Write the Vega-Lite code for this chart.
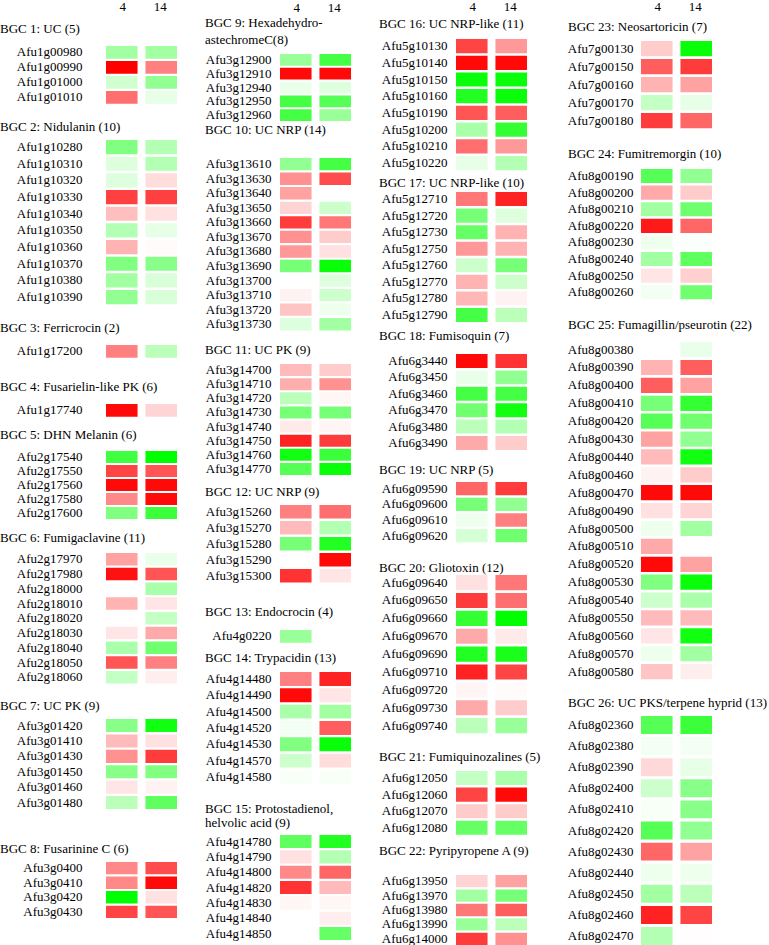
{
"$schema":"https://vega.github.io/schema/vega-lite/v6.json",
"padding":0,
"background":"white",
"spacing":26,
"resolve":{"scale":{"color":"independent"}},
"datasets":{"d":[
{"b":1,"g":"Afu1g00980","t":"4","v":-1.1},{"b":1,"g":"Afu1g00980","t":"14","v":-1.1},
{"b":1,"g":"Afu1g00990","t":"4","v":3},{"b":1,"g":"Afu1g00990","t":"14","v":1.5},
{"b":1,"g":"Afu1g01000","t":"4","v":-0.55},{"b":1,"g":"Afu1g01000","t":"14","v":-1.3},
{"b":1,"g":"Afu1g01010","t":"4","v":1.7},{"b":1,"g":"Afu1g01010","t":"14","v":-0.3},
{"b":2,"g":"Afu1g10280","t":"4","v":-1.5},{"b":2,"g":"Afu1g10280","t":"14","v":-0.9},
{"b":2,"g":"Afu1g10310","t":"4","v":-0.4},{"b":2,"g":"Afu1g10310","t":"14","v":-0.9},
{"b":2,"g":"Afu1g10320","t":"4","v":-0.4},{"b":2,"g":"Afu1g10320","t":"14","v":0.4},
{"b":2,"g":"Afu1g10330","t":"4","v":2.25},{"b":2,"g":"Afu1g10330","t":"14","v":2.25},
{"b":2,"g":"Afu1g10340","t":"4","v":0.75},{"b":2,"g":"Afu1g10340","t":"14","v":0.35},
{"b":2,"g":"Afu1g10350","t":"4","v":-0.9},{"b":2,"g":"Afu1g10350","t":"14","v":-0.3},
{"b":2,"g":"Afu1g10360","t":"4","v":0.9},{"b":2,"g":"Afu1g10360","t":"14","v":0.05},
{"b":2,"g":"Afu1g10370","t":"4","v":-1.5},{"b":2,"g":"Afu1g10370","t":"14","v":-1.4},
{"b":2,"g":"Afu1g10380","t":"4","v":-1.1},{"b":2,"g":"Afu1g10380","t":"14","v":-0.45},
{"b":2,"g":"Afu1g10390","t":"4","v":-1.3},{"b":2,"g":"Afu1g10390","t":"14","v":-0.45},
{"b":3,"g":"Afu1g17200","t":"4","v":1.5},{"b":3,"g":"Afu1g17200","t":"14","v":-0.8},
{"b":4,"g":"Afu1g17740","t":"4","v":2.9},{"b":4,"g":"Afu1g17740","t":"14","v":0.5},
{"b":5,"g":"Afu2g17540","t":"4","v":-2.25},{"b":5,"g":"Afu2g17540","t":"14","v":-3},
{"b":5,"g":"Afu2g17550","t":"4","v":2.2},{"b":5,"g":"Afu2g17550","t":"14","v":2.0},
{"b":5,"g":"Afu2g17560","t":"4","v":2.9},{"b":5,"g":"Afu2g17560","t":"14","v":2.9},
{"b":5,"g":"Afu2g17580","t":"4","v":1.4},{"b":5,"g":"Afu2g17580","t":"14","v":2.9},
{"b":5,"g":"Afu2g17600","t":"4","v":-1.5},{"b":5,"g":"Afu2g17600","t":"14","v":-2.3},
{"b":6,"g":"Afu2g17970","t":"4","v":1.1},{"b":6,"g":"Afu2g17970","t":"14","v":-0.25},
{"b":6,"g":"Afu2g17980","t":"4","v":2.8},{"b":6,"g":"Afu2g17980","t":"14","v":2.0},
{"b":6,"g":"Afu2g18000","t":"14","v":-1.0},
{"b":6,"g":"Afu2g18010","t":"4","v":0.9},{"b":6,"g":"Afu2g18010","t":"14","v":0.3},
{"b":6,"g":"Afu2g18020","t":"14","v":-0.7},
{"b":6,"g":"Afu2g18030","t":"4","v":0.3},{"b":6,"g":"Afu2g18030","t":"14","v":1.0},
{"b":6,"g":"Afu2g18040","t":"4","v":-1.0},{"b":6,"g":"Afu2g18040","t":"14","v":-1.7},
{"b":6,"g":"Afu2g18050","t":"4","v":2.0},{"b":6,"g":"Afu2g18050","t":"14","v":1.5},
{"b":6,"g":"Afu2g18060","t":"4","v":-0.7},{"b":6,"g":"Afu2g18060","t":"14","v":0.2},
{"b":7,"g":"Afu3g01420","t":"4","v":-1.4},{"b":7,"g":"Afu3g01420","t":"14","v":-2.8},
{"b":7,"g":"Afu3g01410","t":"4","v":0.8},{"b":7,"g":"Afu3g01410","t":"14","v":0.35},
{"b":7,"g":"Afu3g01430","t":"4","v":1.3},{"b":7,"g":"Afu3g01430","t":"14","v":2.3},
{"b":7,"g":"Afu3g01450","t":"4","v":-1.4},{"b":7,"g":"Afu3g01450","t":"14","v":-1.5},
{"b":7,"g":"Afu3g01460","t":"4","v":0.3},{"b":7,"g":"Afu3g01460","t":"14","v":0.15},
{"b":7,"g":"Afu3g01480","t":"4","v":-0.8},{"b":7,"g":"Afu3g01480","t":"14","v":-1.9},
{"b":8,"g":"Afu3g0400","t":"4","v":1.4},{"b":8,"g":"Afu3g0400","t":"14","v":2.1},
{"b":8,"g":"Afu3g0410","t":"4","v":1.4},{"b":8,"g":"Afu3g0410","t":"14","v":2.9},
{"b":8,"g":"Afu3g0420","t":"4","v":-3},{"b":8,"g":"Afu3g0420","t":"14","v":0.35},
{"b":8,"g":"Afu3g0430","t":"4","v":2.2},{"b":8,"g":"Afu3g0430","t":"14","v":2.0},
{"b":9,"g":"Afu3g12900","t":"4","v":-1.2},{"b":9,"g":"Afu3g12900","t":"14","v":-2.2},
{"b":9,"g":"Afu3g12910","t":"4","v":2.9},{"b":9,"g":"Afu3g12910","t":"14","v":2.9},
{"b":9,"g":"Afu3g12940","t":"4","v":-0.25},{"b":9,"g":"Afu3g12940","t":"14","v":-0.4},
{"b":9,"g":"Afu3g12950","t":"4","v":-2.2},{"b":9,"g":"Afu3g12950","t":"14","v":-2.0},
{"b":9,"g":"Afu3g12960","t":"4","v":-2.2},{"b":9,"g":"Afu3g12960","t":"14","v":-1.2},
{"b":10,"g":"Afu3g13610","t":"4","v":-1.3},{"b":10,"g":"Afu3g13610","t":"14","v":-2.2},
{"b":10,"g":"Afu3g13630","t":"4","v":1.3},{"b":10,"g":"Afu3g13630","t":"14","v":2.1},
{"b":10,"g":"Afu3g13640","t":"4","v":1.1},
{"b":10,"g":"Afu3g13650","t":"4","v":0.5},{"b":10,"g":"Afu3g13650","t":"14","v":-0.6},
{"b":10,"g":"Afu3g13660","t":"4","v":2.3},{"b":10,"g":"Afu3g13660","t":"14","v":1.6},
{"b":10,"g":"Afu3g13670","t":"4","v":1.3},{"b":10,"g":"Afu3g13670","t":"14","v":0.6},
{"b":10,"g":"Afu3g13680","t":"4","v":1.2},{"b":10,"g":"Afu3g13680","t":"14","v":0.35},
{"b":10,"g":"Afu3g13690","t":"4","v":-1.6},{"b":10,"g":"Afu3g13690","t":"14","v":-2.9},
{"b":10,"g":"Afu3g13700","t":"14","v":-0.4},
{"b":10,"g":"Afu3g13710","t":"4","v":0.15},{"b":10,"g":"Afu3g13710","t":"14","v":-0.6},
{"b":10,"g":"Afu3g13720","t":"4","v":0.7},{"b":10,"g":"Afu3g13720","t":"14","v":-0.2},
{"b":10,"g":"Afu3g13730","t":"4","v":-0.4},{"b":10,"g":"Afu3g13730","t":"14","v":-1.1},
{"b":11,"g":"Afu3g14700","t":"4","v":0.8},{"b":11,"g":"Afu3g14700","t":"14","v":0.6},
{"b":11,"g":"Afu3g14710","t":"4","v":0.95},{"b":11,"g":"Afu3g14710","t":"14","v":1.3},
{"b":11,"g":"Afu3g14720","t":"4","v":-0.8},{"b":11,"g":"Afu3g14720","t":"14","v":0.1},
{"b":11,"g":"Afu3g14730","t":"4","v":-1.6},{"b":11,"g":"Afu3g14730","t":"14","v":-1.6},
{"b":11,"g":"Afu3g14740","t":"4","v":0.25},{"b":11,"g":"Afu3g14740","t":"14","v":0.12},
{"b":11,"g":"Afu3g14750","t":"4","v":2.6},{"b":11,"g":"Afu3g14750","t":"14","v":2.3},
{"b":11,"g":"Afu3g14760","t":"4","v":-2.8},{"b":11,"g":"Afu3g14760","t":"14","v":-2.3},
{"b":11,"g":"Afu3g14770","t":"4","v":-2.0},{"b":11,"g":"Afu3g14770","t":"14","v":-2.9},
{"b":12,"g":"Afu3g15260","t":"4","v":1.5},{"b":12,"g":"Afu3g15260","t":"14","v":1.7},
{"b":12,"g":"Afu3g15270","t":"4","v":0.8},{"b":12,"g":"Afu3g15270","t":"14","v":-0.9},
{"b":12,"g":"Afu3g15280","t":"4","v":-1.6},{"b":12,"g":"Afu3g15280","t":"14","v":-2.6},
{"b":12,"g":"Afu3g15290","t":"14","v":2.9},
{"b":12,"g":"Afu3g15300","t":"4","v":2.4},{"b":12,"g":"Afu3g15300","t":"14","v":0.3},
{"b":13,"g":"Afu4g0220","t":"4","v":-1.2},
{"b":14,"g":"Afu4g14480","t":"4","v":1.5},{"b":14,"g":"Afu4g14480","t":"14","v":2.6},
{"b":14,"g":"Afu4g14490","t":"4","v":2.9},{"b":14,"g":"Afu4g14490","t":"14","v":0.3},
{"b":14,"g":"Afu4g14500","t":"4","v":-1.0},{"b":14,"g":"Afu4g14500","t":"14","v":-1.1},
{"b":14,"g":"Afu4g14520","t":"4","v":-0.15},{"b":14,"g":"Afu4g14520","t":"14","v":1.9},
{"b":14,"g":"Afu4g14530","t":"4","v":-1.5},{"b":14,"g":"Afu4g14530","t":"14","v":-2.9},
{"b":14,"g":"Afu4g14570","t":"4","v":-0.6},{"b":14,"g":"Afu4g14570","t":"14","v":0.4},
{"b":14,"g":"Afu4g14580","t":"4","v":-0.1},{"b":14,"g":"Afu4g14580","t":"14","v":-0.1},
{"b":15,"g":"Afu4g14780","t":"4","v":-1.9},{"b":15,"g":"Afu4g14780","t":"14","v":-2.6},
{"b":15,"g":"Afu4g14790","t":"4","v":0.35},{"b":15,"g":"Afu4g14790","t":"14","v":-0.9},
{"b":15,"g":"Afu4g14800","t":"4","v":1.4},{"b":15,"g":"Afu4g14800","t":"14","v":1.8},
{"b":15,"g":"Afu4g14820","t":"4","v":2.4},{"b":15,"g":"Afu4g14820","t":"14","v":0.8},
{"b":15,"g":"Afu4g14830","t":"4","v":0.1},{"b":15,"g":"Afu4g14830","t":"14","v":0.1},
{"b":15,"g":"Afu4g14840","t":"14","v":0.2},
{"b":15,"g":"Afu4g14850","t":"14","v":-1.8},
{"b":16,"g":"Afu5g10130","t":"4","v":2.2},{"b":16,"g":"Afu5g10130","t":"14","v":1.2},
{"b":16,"g":"Afu5g10140","t":"4","v":2.9},{"b":16,"g":"Afu5g10140","t":"14","v":2.9},
{"b":16,"g":"Afu5g10150","t":"4","v":-2.9},{"b":16,"g":"Afu5g10150","t":"14","v":-2.9},
{"b":16,"g":"Afu5g10160","t":"4","v":-2.6},{"b":16,"g":"Afu5g10160","t":"14","v":-2.9},
{"b":16,"g":"Afu5g10190","t":"4","v":2.0},{"b":16,"g":"Afu5g10190","t":"14","v":1.9},
{"b":16,"g":"Afu5g10200","t":"4","v":-1.0},{"b":16,"g":"Afu5g10200","t":"14","v":-2.4},
{"b":16,"g":"Afu5g10210","t":"4","v":1.7},{"b":16,"g":"Afu5g10210","t":"14","v":1.2},
{"b":16,"g":"Afu5g10220","t":"4","v":-0.3},{"b":16,"g":"Afu5g10220","t":"14","v":-0.9},
{"b":17,"g":"Afu5g12710","t":"4","v":1.6},{"b":17,"g":"Afu5g12710","t":"14","v":2.6},
{"b":17,"g":"Afu5g12720","t":"4","v":-1.6},{"b":17,"g":"Afu5g12720","t":"14","v":-0.4},
{"b":17,"g":"Afu5g12730","t":"4","v":-1.8},{"b":17,"g":"Afu5g12730","t":"14","v":0.9},
{"b":17,"g":"Afu5g12750","t":"4","v":1.2},{"b":17,"g":"Afu5g12750","t":"14","v":0.9},
{"b":17,"g":"Afu5g12760","t":"4","v":-0.6},{"b":17,"g":"Afu5g12760","t":"14","v":-1.6},
{"b":17,"g":"Afu5g12770","t":"4","v":0.9},{"b":17,"g":"Afu5g12770","t":"14","v":-0.6},
{"b":17,"g":"Afu5g12780","t":"4","v":0.85},{"b":17,"g":"Afu5g12780","t":"14","v":0.15},
{"b":17,"g":"Afu5g12790","t":"4","v":-2.2},{"b":17,"g":"Afu5g12790","t":"14","v":-0.8},
{"b":18,"g":"Afu6g3440","t":"4","v":2.9},{"b":18,"g":"Afu6g3440","t":"14","v":2.4},
{"b":18,"g":"Afu6g3450","t":"4","v":-0.25},{"b":18,"g":"Afu6g3450","t":"14","v":-1.3},
{"b":18,"g":"Afu6g3460","t":"4","v":-2.2},{"b":18,"g":"Afu6g3460","t":"14","v":-2.2},
{"b":18,"g":"Afu6g3470","t":"4","v":-1.7},{"b":18,"g":"Afu6g3470","t":"14","v":-2.8},
{"b":18,"g":"Afu6g3480","t":"4","v":-0.8},{"b":18,"g":"Afu6g3480","t":"14","v":-0.9},
{"b":18,"g":"Afu6g3490","t":"4","v":1.0},{"b":18,"g":"Afu6g3490","t":"14","v":0.6},
{"b":19,"g":"Afu6g09590","t":"4","v":1.8},{"b":19,"g":"Afu6g09590","t":"14","v":2.3},
{"b":19,"g":"Afu6g09600","t":"4","v":-1.6},{"b":19,"g":"Afu6g09600","t":"14","v":-1.3},
{"b":19,"g":"Afu6g09610","t":"4","v":-0.2},{"b":19,"g":"Afu6g09610","t":"14","v":1.5},
{"b":19,"g":"Afu6g09620","t":"4","v":-0.5},{"b":19,"g":"Afu6g09620","t":"14","v":-1.7},
{"b":20,"g":"Afu6g09640","t":"4","v":0.35},{"b":20,"g":"Afu6g09640","t":"14","v":1.6},
{"b":20,"g":"Afu6g09650","t":"4","v":2.3},{"b":20,"g":"Afu6g09650","t":"14","v":1.7},
{"b":20,"g":"Afu6g09660","t":"4","v":-2.4},{"b":20,"g":"Afu6g09660","t":"14","v":-3},
{"b":20,"g":"Afu6g09670","t":"4","v":1.0},{"b":20,"g":"Afu6g09670","t":"14","v":0.25},
{"b":20,"g":"Afu6g09690","t":"4","v":-2.6},{"b":20,"g":"Afu6g09690","t":"14","v":-2.7},
{"b":20,"g":"Afu6g09710","t":"4","v":2.6},{"b":20,"g":"Afu6g09710","t":"14","v":2.2},
{"b":20,"g":"Afu6g09720","t":"4","v":0.12},{"b":20,"g":"Afu6g09720","t":"14","v":0.05},
{"b":20,"g":"Afu6g09730","t":"4","v":1.0},{"b":20,"g":"Afu6g09730","t":"14","v":0.6},
{"b":20,"g":"Afu6g09740","t":"4","v":-0.8},{"b":20,"g":"Afu6g09740","t":"14","v":-1.2},
{"b":21,"g":"Afu6g12050","t":"4","v":-0.7},{"b":21,"g":"Afu6g12050","t":"14","v":-1.0},
{"b":21,"g":"Afu6g12060","t":"4","v":2.2},{"b":21,"g":"Afu6g12060","t":"14","v":2.9},
{"b":21,"g":"Afu6g12070","t":"4","v":0.6},{"b":21,"g":"Afu6g12070","t":"14","v":0.6},
{"b":21,"g":"Afu6g12080","t":"4","v":-1.8},{"b":21,"g":"Afu6g12080","t":"14","v":-1.8},
{"b":22,"g":"Afu6g13950","t":"4","v":0.5},{"b":22,"g":"Afu6g13950","t":"14","v":1.1},
{"b":22,"g":"Afu6g13970","t":"4","v":-1.1},{"b":22,"g":"Afu6g13970","t":"14","v":-1.6},
{"b":22,"g":"Afu6g13980","t":"4","v":1.6},{"b":22,"g":"Afu6g13980","t":"14","v":1.9},
{"b":22,"g":"Afu6g13990","t":"4","v":-1.2},{"b":22,"g":"Afu6g13990","t":"14","v":-0.8},
{"b":22,"g":"Afu6g14000","t":"4","v":2.3},{"b":22,"g":"Afu6g14000","t":"14","v":1.3},
{"b":23,"g":"Afu7g00130","t":"4","v":0.6},{"b":23,"g":"Afu7g00130","t":"14","v":-2.9},
{"b":23,"g":"Afu7g00150","t":"4","v":1.9},{"b":23,"g":"Afu7g00150","t":"14","v":2.3},
{"b":23,"g":"Afu7g00160","t":"4","v":0.9},{"b":23,"g":"Afu7g00160","t":"14","v":1.1},
{"b":23,"g":"Afu7g00170","t":"4","v":-0.7},{"b":23,"g":"Afu7g00170","t":"14","v":-0.3},
{"b":23,"g":"Afu7g00180","t":"4","v":2.3},{"b":23,"g":"Afu7g00180","t":"14","v":1.8},
{"b":24,"g":"Afu8g00190","t":"4","v":-2.0},{"b":24,"g":"Afu8g00190","t":"14","v":-1.3},
{"b":24,"g":"Afu8g00200","t":"4","v":1.0},{"b":24,"g":"Afu8g00200","t":"14","v":0.6},
{"b":24,"g":"Afu8g00210","t":"4","v":-1.1},{"b":24,"g":"Afu8g00210","t":"14","v":-1.7},
{"b":24,"g":"Afu8g00220","t":"4","v":2.7},{"b":24,"g":"Afu8g00220","t":"14","v":1.8},
{"b":24,"g":"Afu8g00230","t":"4","v":-0.2},{"b":24,"g":"Afu8g00230","t":"14","v":-0.05},
{"b":24,"g":"Afu8g00240","t":"4","v":-1.1},{"b":24,"g":"Afu8g00240","t":"14","v":-1.9},
{"b":24,"g":"Afu8g00250","t":"4","v":0.3},{"b":24,"g":"Afu8g00250","t":"14","v":0.55},
{"b":24,"g":"Afu8g00260","t":"4","v":-0.15},{"b":24,"g":"Afu8g00260","t":"14","v":-1.7},
{"b":25,"g":"Afu8g00380","t":"14","v":-0.25},
{"b":25,"g":"Afu8g00390","t":"4","v":0.9},{"b":25,"g":"Afu8g00390","t":"14","v":1.9},
{"b":25,"g":"Afu8g00400","t":"4","v":1.9},{"b":25,"g":"Afu8g00400","t":"14","v":1.1},
{"b":25,"g":"Afu8g00410","t":"4","v":-1.6},{"b":25,"g":"Afu8g00410","t":"14","v":-2.4},
{"b":25,"g":"Afu8g00420","t":"4","v":-2.0},{"b":25,"g":"Afu8g00420","t":"14","v":-1.7},
{"b":25,"g":"Afu8g00430","t":"4","v":1.1},{"b":25,"g":"Afu8g00430","t":"14","v":-1.3},
{"b":25,"g":"Afu8g00440","t":"4","v":0.8},{"b":25,"g":"Afu8g00440","t":"14","v":-2.8},
{"b":25,"g":"Afu8g00460","t":"4","v":0.15},{"b":25,"g":"Afu8g00460","t":"14","v":0.6},
{"b":25,"g":"Afu8g00470","t":"4","v":2.9},{"b":25,"g":"Afu8g00470","t":"14","v":2.9},
{"b":25,"g":"Afu8g00490","t":"4","v":0.35},{"b":25,"g":"Afu8g00490","t":"14","v":0.5},
{"b":25,"g":"Afu8g00500","t":"4","v":-0.2},{"b":25,"g":"Afu8g00500","t":"14","v":-1.1},
{"b":25,"g":"Afu8g00510","t":"4","v":1.0},
{"b":25,"g":"Afu8g00520","t":"4","v":2.9},{"b":25,"g":"Afu8g00520","t":"14","v":1.1},
{"b":25,"g":"Afu8g00530","t":"4","v":-1.5},{"b":25,"g":"Afu8g00530","t":"14","v":-2.9},
{"b":25,"g":"Afu8g00540","t":"4","v":-0.6},{"b":25,"g":"Afu8g00540","t":"14","v":-1.0},
{"b":25,"g":"Afu8g00550","t":"4","v":0.8},{"b":25,"g":"Afu8g00550","t":"14","v":0.8},
{"b":25,"g":"Afu8g00560","t":"4","v":0.3},{"b":25,"g":"Afu8g00560","t":"14","v":-2.8},
{"b":25,"g":"Afu8g00570","t":"4","v":-0.2},{"b":25,"g":"Afu8g00570","t":"14","v":-1.1},
{"b":25,"g":"Afu8g00580","t":"4","v":0.7},{"b":25,"g":"Afu8g00580","t":"14","v":0.2},
{"b":26,"g":"Afu8g02360","t":"4","v":-2.0},{"b":26,"g":"Afu8g02360","t":"14","v":-2.3},
{"b":26,"g":"Afu8g02380","t":"4","v":-0.15},{"b":26,"g":"Afu8g02380","t":"14","v":-0.15},
{"b":26,"g":"Afu8g02390","t":"4","v":0.45},{"b":26,"g":"Afu8g02390","t":"14","v":-0.3},
{"b":26,"g":"Afu8g02400","t":"4","v":-0.6},{"b":26,"g":"Afu8g02400","t":"14","v":-1.4},
{"b":26,"g":"Afu8g02410","t":"4","v":-0.1},{"b":26,"g":"Afu8g02410","t":"14","v":-1.4},
{"b":26,"g":"Afu8g02420","t":"4","v":-2.0},{"b":26,"g":"Afu8g02420","t":"14","v":-1.3},
{"b":26,"g":"Afu8g02430","t":"4","v":1.8},{"b":26,"g":"Afu8g02430","t":"14","v":1.1},
{"b":26,"g":"Afu8g02440","t":"4","v":-0.2},{"b":26,"g":"Afu8g02440","t":"14","v":-0.2},
{"b":26,"g":"Afu8g02450","t":"4","v":-1.1},{"b":26,"g":"Afu8g02450","t":"14","v":-0.8},
{"b":26,"g":"Afu8g02460","t":"4","v":2.6},{"b":26,"g":"Afu8g02460","t":"14","v":2.2},
{"b":26,"g":"Afu8g02470","t":"4","v":-0.9},{"b":26,"g":"Afu8g02470","t":"14","v":0.02}
]},
"hconcat":[
{"spacing":8,"resolve":{"scale":{"color":"independent"}},"vconcat":[
{"width":75,"height":14,"data":{"values":[{"t":"4"},{"t":"14"}]},"mark":"text","encoding":{"x":{"field":"t","type":"nominal","axis":null,"scale":{"domain":["4","14"],"paddingInner":0.2,"paddingOuter":0.05}},"text":{"field":"t"}}},
{"title":{"text":"BGC 1: UC (5)","offset":10,"dx":-104},"width":75,"height":67,"data":{"name":"d"},"transform":[{"filter":"datum.b==1"}],"mark":"rect","encoding":{"x":{"field":"t","type":"nominal","axis":null,"scale":{"domain":["4","14"],"paddingInner":0.2,"paddingOuter":0.05}},"y":{"field":"g","type":"nominal","sort":null,"axis":{"labelPadding":22},"scale":{"paddingInner":0.15,"paddingOuter":0.308,"align":0}},"color":{"field":"v","type":"quantitative","legend":null,"scale":{"domain":[-3,0,3],"range":["#00ff00","#ffffff","#ff0000"],"interpolate":"rgb","clamp":true}}}},
{"title":{"text":"BGC 2: Nidulanin (10)","offset":6,"dx":-104},"width":75,"height":173,"data":{"name":"d"},"transform":[{"filter":"datum.b==2"}],"mark":"rect","encoding":{"x":{"field":"t","type":"nominal","axis":null,"scale":{"domain":["4","14"],"paddingInner":0.2,"paddingOuter":0.05}},"y":{"field":"g","type":"nominal","sort":null,"axis":{"labelPadding":22},"scale":{"paddingInner":0.15,"paddingOuter":0.264,"align":0}},"color":{"field":"v","type":"quantitative","legend":null,"scale":{"domain":[-3,0,3],"range":["#00ff00","#ffffff","#ff0000"],"interpolate":"rgb","clamp":true}}}},
{"title":{"text":"BGC 3: Ferricrocin (2)","offset":10,"dx":-104},"width":75,"height":27,"data":{"name":"d"},"transform":[{"filter":"datum.b==3"}],"mark":"rect","encoding":{"x":{"field":"t","type":"nominal","axis":null,"scale":{"domain":["4","14"],"paddingInner":0.2,"paddingOuter":0.05}},"y":{"field":"g","type":"nominal","sort":null,"axis":{"labelPadding":22},"scale":{"paddingInner":0.15,"paddingOuter":0.475,"align":0}},"color":{"field":"v","type":"quantitative","legend":null,"scale":{"domain":[-3,0,3],"range":["#00ff00","#ffffff","#ff0000"],"interpolate":"rgb","clamp":true}}}},
{"title":{"text":"BGC 4: Fusarielin-like PK (6)","offset":10,"dx":-104},"width":75,"height":17,"data":{"name":"d"},"transform":[{"filter":"datum.b==4"}],"mark":"rect","encoding":{"x":{"field":"t","type":"nominal","axis":null,"scale":{"domain":["4","14"],"paddingInner":0.2,"paddingOuter":0.05}},"y":{"field":"g","type":"nominal","sort":null,"axis":{"labelPadding":22},"scale":{"paddingInner":0.15,"paddingOuter":0.142,"align":0}},"color":{"field":"v","type":"quantitative","legend":null,"scale":{"domain":[-3,0,3],"range":["#00ff00","#ffffff","#ff0000"],"interpolate":"rgb","clamp":true}}}},
{"title":{"text":"BGC 5: DHN Melanin (6)","offset":8,"dx":-104},"width":75,"height":72,"data":{"name":"d"},"transform":[{"filter":"datum.b==5"}],"mark":"rect","encoding":{"x":{"field":"t","type":"nominal","axis":null,"scale":{"domain":["4","14"],"paddingInner":0.2,"paddingOuter":0.05}},"y":{"field":"g","type":"nominal","sort":null,"axis":{"labelPadding":22},"scale":{"paddingInner":0.15,"paddingOuter":0.146,"align":0}},"color":{"field":"v","type":"quantitative","legend":null,"scale":{"domain":[-3,0,3],"range":["#00ff00","#ffffff","#ff0000"],"interpolate":"rgb","clamp":true}}}},
{"title":{"text":"BGC 6: Fumigaclavine (11)","offset":8,"dx":-104},"width":75,"height":139,"data":{"name":"d"},"transform":[{"filter":"datum.b==6"}],"mark":"rect","encoding":{"x":{"field":"t","type":"nominal","axis":null,"scale":{"domain":["4","14"],"paddingInner":0.2,"paddingOuter":0.05}},"y":{"field":"g","type":"nominal","sort":null,"axis":{"labelPadding":22},"scale":{"paddingInner":0.15,"paddingOuter":0.287,"align":0}},"color":{"field":"v","type":"quantitative","legend":null,"scale":{"domain":[-3,0,3],"range":["#00ff00","#ffffff","#ff0000"],"interpolate":"rgb","clamp":true}}}},
{"title":{"text":"BGC 7: UC PK (9)","offset":6,"dx":-104},"width":75,"height":115,"data":{"name":"d"},"transform":[{"filter":"datum.b==7"}],"mark":"rect","encoding":{"x":{"field":"t","type":"nominal","axis":null,"scale":{"domain":["4","14"],"paddingInner":0.2,"paddingOuter":0.05}},"y":{"field":"g","type":"nominal","sort":null,"axis":{"labelPadding":22},"scale":{"paddingInner":0.15,"paddingOuter":0.809,"align":0}},"color":{"field":"v","type":"quantitative","legend":null,"scale":{"domain":[-3,0,3],"range":["#00ff00","#ffffff","#ff0000"],"interpolate":"rgb","clamp":true}}}},
{"title":{"text":"BGC 8: Fusarinine C (6)","offset":6,"dx":-104},"width":75,"height":56,"data":{"name":"d"},"transform":[{"filter":"datum.b==8"}],"mark":"rect","encoding":{"x":{"field":"t","type":"nominal","axis":null,"scale":{"domain":["4","14"],"paddingInner":0.2,"paddingOuter":0.05}},"y":{"field":"g","type":"nominal","sort":null,"axis":{"labelPadding":22},"scale":{"paddingInner":0.15,"paddingOuter":0,"align":0}},"color":{"field":"v","type":"quantitative","legend":null,"scale":{"domain":[-3,0,3],"range":["#00ff00","#ffffff","#ff0000"],"interpolate":"rgb","clamp":true}}}}
]},
{"spacing":1,"resolve":{"scale":{"color":"independent"}},"vconcat":[
{"width":75,"height":16,"data":{"values":[{"t":"4"},{"t":"14"}]},"mark":"text","encoding":{"x":{"field":"t","type":"nominal","axis":null,"scale":{"domain":["4","14"],"paddingInner":0.2,"paddingOuter":0.05}},"text":{"field":"t"}}},
{"title":{"text":["BGC 9: Hexadehydro-","astechromeC(8)"],"lineHeight":17,"offset":6,"dx":-73},"width":75,"height":67,"data":{"name":"d"},"transform":[{"filter":"datum.b==9"}],"mark":"rect","encoding":{"x":{"field":"t","type":"nominal","axis":null,"scale":{"domain":["4","14"],"paddingInner":0.2,"paddingOuter":0.05}},"y":{"field":"g","type":"nominal","sort":null,"axis":{"labelPadding":7},"scale":{"paddingInner":0.15,"paddingOuter":0,"align":0}},"color":{"field":"v","type":"quantitative","legend":null,"scale":{"domain":[-3,0,3],"range":["#00ff00","#ffffff","#ff0000"],"interpolate":"rgb","clamp":true}}}},
{"title":{"text":"BGC 10: UC NRP (14)","offset":21,"dx":-73},"width":75,"height":184,"data":{"name":"d"},"transform":[{"filter":"datum.b==10"}],"mark":"rect","encoding":{"x":{"field":"t","type":"nominal","axis":null,"scale":{"domain":["4","14"],"paddingInner":0.2,"paddingOuter":0.05}},"y":{"field":"g","type":"nominal","sort":null,"axis":{"labelPadding":7},"scale":{"paddingInner":0.15,"paddingOuter":0.398,"align":0}},"color":{"field":"v","type":"quantitative","legend":null,"scale":{"domain":[-3,0,3],"range":["#00ff00","#ffffff","#ff0000"],"interpolate":"rgb","clamp":true}}}},
{"title":{"text":"BGC 11: UC PK (9)","offset":7,"dx":-73},"width":75,"height":121,"data":{"name":"d"},"transform":[{"filter":"datum.b==11"}],"mark":"rect","encoding":{"x":{"field":"t","type":"nominal","axis":null,"scale":{"domain":["4","14"],"paddingInner":0.2,"paddingOuter":0.05}},"y":{"field":"g","type":"nominal","sort":null,"axis":{"labelPadding":7},"scale":{"paddingInner":0.15,"paddingOuter":0.354,"align":0}},"color":{"field":"v","type":"quantitative","legend":null,"scale":{"domain":[-3,0,3],"range":["#00ff00","#ffffff","#ff0000"],"interpolate":"rgb","clamp":true}}}},
{"title":{"text":"BGC 12: UC NRP (9)","offset":6,"dx":-73},"width":75,"height":99,"data":{"name":"d"},"transform":[{"filter":"datum.b==12"}],"mark":"rect","encoding":{"x":{"field":"t","type":"nominal","axis":null,"scale":{"domain":["4","14"],"paddingInner":0.2,"paddingOuter":0.05}},"y":{"field":"g","type":"nominal","sort":null,"axis":{"labelPadding":7},"scale":{"paddingInner":0.15,"paddingOuter":0.669,"align":0}},"color":{"field":"v","type":"quantitative","legend":null,"scale":{"domain":[-3,0,3],"range":["#00ff00","#ffffff","#ff0000"],"interpolate":"rgb","clamp":true}}}},
{"title":{"text":"BGC 13: Endocrocin (4)","offset":11,"dx":-73},"width":75,"height":21,"data":{"name":"d"},"transform":[{"filter":"datum.b==13"}],"mark":"rect","encoding":{"x":{"field":"t","type":"nominal","axis":null,"scale":{"domain":["4","14"],"paddingInner":0.2,"paddingOuter":0.05}},"y":{"field":"g","type":"nominal","sort":null,"axis":{"labelPadding":7},"scale":{"paddingInner":0.15,"paddingOuter":0.275,"align":0}},"color":{"field":"v","type":"quantitative","legend":null,"scale":{"domain":[-3,0,3],"range":["#00ff00","#ffffff","#ff0000"],"interpolate":"rgb","clamp":true}}}},
{"title":{"text":"BGC 14: Trypacidin (13)","offset":7,"dx":-73},"width":75,"height":130,"data":{"name":"d"},"transform":[{"filter":"datum.b==14"}],"mark":"rect","encoding":{"x":{"field":"t","type":"nominal","axis":null,"scale":{"domain":["4","14"],"paddingInner":0.2,"paddingOuter":0.05}},"y":{"field":"g","type":"nominal","sort":null,"axis":{"labelPadding":7},"scale":{"paddingInner":0.15,"paddingOuter":0.555,"align":0}},"color":{"field":"v","type":"quantitative","legend":null,"scale":{"domain":[-3,0,3],"range":["#00ff00","#ffffff","#ff0000"],"interpolate":"rgb","clamp":true}}}},
{"title":{"text":["BGC 15: Protostadienol,","helvolic acid (9)"],"lineHeight":14,"offset":5,"dx":-73},"width":75,"height":106,"data":{"name":"d"},"transform":[{"filter":"datum.b==15"}],"mark":"rect","encoding":{"x":{"field":"t","type":"nominal","axis":null,"scale":{"domain":["4","14"],"paddingInner":0.2,"paddingOuter":0.05}},"y":{"field":"g","type":"nominal","sort":null,"axis":{"labelPadding":7},"scale":{"paddingInner":0.15,"paddingOuter":0.03,"align":0}},"color":{"field":"v","type":"quantitative","legend":null,"scale":{"domain":[-3,0,3],"range":["#00ff00","#ffffff","#ff0000"],"interpolate":"rgb","clamp":true}}}}
]},
{"spacing":4,"resolve":{"scale":{"color":"independent"}},"vconcat":[
{"width":75,"height":14,"data":{"values":[{"t":"4"},{"t":"14"}]},"mark":"text","encoding":{"x":{"field":"t","type":"nominal","axis":null,"scale":{"domain":["4","14"],"paddingInner":0.2,"paddingOuter":0.05}},"text":{"field":"t"}}},
{"title":{"text":"BGC 16: UC NRP-like (11)","offset":8,"dx":-75},"width":75,"height":134,"data":{"name":"d"},"transform":[{"filter":"datum.b==16"}],"mark":"rect","encoding":{"x":{"field":"t","type":"nominal","axis":null,"scale":{"domain":["4","14"],"paddingInner":0.2,"paddingOuter":0.05}},"y":{"field":"g","type":"nominal","sort":null,"axis":{"labelPadding":7},"scale":{"paddingInner":0.15,"paddingOuter":0.085,"align":0}},"color":{"field":"v","type":"quantitative","legend":null,"scale":{"domain":[-3,0,3],"range":["#00ff00","#ffffff","#ff0000"],"interpolate":"rgb","clamp":true}}}},
{"title":{"text":"BGC 17: UC NRP-like (10)","offset":2,"dx":-75},"width":75,"height":134,"data":{"name":"d"},"transform":[{"filter":"datum.b==17"}],"mark":"rect","encoding":{"x":{"field":"t","type":"nominal","axis":null,"scale":{"domain":["4","14"],"paddingInner":0.2,"paddingOuter":0.05}},"y":{"field":"g","type":"nominal","sort":null,"axis":{"labelPadding":7},"scale":{"paddingInner":0.15,"paddingOuter":0.118,"align":0}},"color":{"field":"v","type":"quantitative","legend":null,"scale":{"domain":[-3,0,3],"range":["#00ff00","#ffffff","#ff0000"],"interpolate":"rgb","clamp":true}}}},
{"title":{"text":"BGC 18: Fumisoquin (7)","offset":11,"dx":-75},"width":75,"height":106,"data":{"name":"d"},"transform":[{"filter":"datum.b==18"}],"mark":"rect","encoding":{"x":{"field":"t","type":"nominal","axis":null,"scale":{"domain":["4","14"],"paddingInner":0.2,"paddingOuter":0.05}},"y":{"field":"g","type":"nominal","sort":null,"axis":{"labelPadding":7},"scale":{"paddingInner":0.15,"paddingOuter":0.307,"align":0}},"color":{"field":"v","type":"quantitative","legend":null,"scale":{"domain":[-3,0,3],"range":["#00ff00","#ffffff","#ff0000"],"interpolate":"rgb","clamp":true}}}},
{"title":{"text":"BGC 19: UC NRP (5)","offset":5,"dx":-75},"width":75,"height":76,"data":{"name":"d"},"transform":[{"filter":"datum.b==19"}],"mark":"rect","encoding":{"x":{"field":"t","type":"nominal","axis":null,"scale":{"domain":["4","14"],"paddingInner":0.2,"paddingOuter":0.05}},"y":{"field":"g","type":"nominal","sort":null,"axis":{"labelPadding":7},"scale":{"paddingInner":0.15,"paddingOuter":0.5,"align":0}},"color":{"field":"v","type":"quantitative","legend":null,"scale":{"domain":[-3,0,3],"range":["#00ff00","#ffffff","#ff0000"],"interpolate":"rgb","clamp":true}}}},
{"title":{"text":"BGC 20: Gliotoxin (12)","offset":0,"dx":-75},"width":75,"height":172,"data":{"name":"d"},"transform":[{"filter":"datum.b==20"}],"mark":"rect","encoding":{"x":{"field":"t","type":"nominal","axis":null,"scale":{"domain":["4","14"],"paddingInner":0.2,"paddingOuter":0.05}},"y":{"field":"g","type":"nominal","sort":null,"axis":{"labelPadding":7},"scale":{"paddingInner":0.15,"paddingOuter":0.386,"align":0}},"color":{"field":"v","type":"quantitative","legend":null,"scale":{"domain":[-3,0,3],"range":["#00ff00","#ffffff","#ff0000"],"interpolate":"rgb","clamp":true}}}},
{"title":{"text":"BGC 21: Fumiquinozalines (5)","offset":7,"dx":-75},"width":75,"height":69,"data":{"name":"d"},"transform":[{"filter":"datum.b==21"}],"mark":"rect","encoding":{"x":{"field":"t","type":"nominal","axis":null,"scale":{"domain":["4","14"],"paddingInner":0.2,"paddingOuter":0.05}},"y":{"field":"g","type":"nominal","sort":null,"axis":{"labelPadding":7},"scale":{"paddingInner":0.15,"paddingOuter":0.157,"align":0}},"color":{"field":"v","type":"quantitative","legend":null,"scale":{"domain":[-3,0,3],"range":["#00ff00","#ffffff","#ff0000"],"interpolate":"rgb","clamp":true}}}},
{"title":{"text":"BGC 22: Pyripyropene A (9)","offset":17,"dx":-75},"width":75,"height":70,"data":{"name":"d"},"transform":[{"filter":"datum.b==22"}],"mark":"rect","encoding":{"x":{"field":"t","type":"nominal","axis":null,"scale":{"domain":["4","14"],"paddingInner":0.2,"paddingOuter":0.05}},"y":{"field":"g","type":"nominal","sort":null,"axis":{"labelPadding":7},"scale":{"paddingInner":0.15,"paddingOuter":0,"align":0}},"color":{"field":"v","type":"quantitative","legend":null,"scale":{"domain":[-3,0,3],"range":["#00ff00","#ffffff","#ff0000"],"interpolate":"rgb","clamp":true}}}}
]},
{"spacing":7,"resolve":{"scale":{"color":"independent"}},"vconcat":[
{"width":75,"height":14,"data":{"values":[{"t":"4"},{"t":"14"}]},"mark":"text","encoding":{"x":{"field":"t","type":"nominal","axis":null,"scale":{"domain":["4","14"],"paddingInner":0.2,"paddingOuter":0.05}},"text":{"field":"t"}}},
{"title":{"text":"BGC 23: Neosartoricin (7)","offset":7,"dx":-71},"width":75,"height":100,"data":{"name":"d"},"transform":[{"filter":"datum.b==23"}],"mark":"rect","encoding":{"x":{"field":"t","type":"nominal","axis":null,"scale":{"domain":["4","14"],"paddingInner":0.2,"paddingOuter":0.05}},"y":{"field":"g","type":"nominal","sort":null,"axis":{"labelPadding":6},"scale":{"paddingInner":0.15,"paddingOuter":0.353,"align":0}},"color":{"field":"v","type":"quantitative","legend":null,"scale":{"domain":[-3,0,3],"range":["#00ff00","#ffffff","#ff0000"],"interpolate":"rgb","clamp":true}}}},
{"title":{"text":"BGC 24: Fumitremorgin (10)","offset":8,"dx":-71},"width":75,"height":143,"data":{"name":"d"},"transform":[{"filter":"datum.b==24"}],"mark":"rect","encoding":{"x":{"field":"t","type":"nominal","axis":null,"scale":{"domain":["4","14"],"paddingInner":0.2,"paddingOuter":0.05}},"y":{"field":"g","type":"nominal","sort":null,"axis":{"labelPadding":6},"scale":{"paddingInner":0.15,"paddingOuter":0.382,"align":0}},"color":{"field":"v","type":"quantitative","legend":null,"scale":{"domain":[-3,0,3],"range":["#00ff00","#ffffff","#ff0000"],"interpolate":"rgb","clamp":true}}}},
{"title":{"text":"BGC 25: Fumagillin/pseurotin (22)","offset":10,"dx":-71},"width":75,"height":348,"data":{"name":"d"},"transform":[{"filter":"datum.b==25"}],"mark":"rect","encoding":{"x":{"field":"t","type":"nominal","axis":null,"scale":{"domain":["4","14"],"paddingInner":0.2,"paddingOuter":0.05}},"y":{"field":"g","type":"nominal","sort":null,"axis":{"labelPadding":6},"scale":{"paddingInner":0.15,"paddingOuter":0.301,"align":0}},"color":{"field":"v","type":"quantitative","legend":null,"scale":{"domain":[-3,0,3],"range":["#00ff00","#ffffff","#ff0000"],"interpolate":"rgb","clamp":true}}}},
{"title":{"text":"BGC 26: UC PKS/terpene hyprid (13)","offset":6,"dx":-71},"width":75,"height":229,"data":{"name":"d"},"transform":[{"filter":"datum.b==26"}],"mark":"rect","encoding":{"x":{"field":"t","type":"nominal","axis":null,"scale":{"domain":["4","14"],"paddingInner":0.2,"paddingOuter":0.05}},"y":{"field":"g","type":"nominal","sort":null,"axis":{"labelPadding":6},"scale":{"paddingInner":0.15,"paddingOuter":0,"align":0}},"color":{"field":"v","type":"quantitative","legend":null,"scale":{"domain":[-3,0,3],"range":["#00ff00","#ffffff","#ff0000"],"interpolate":"rgb","clamp":true}}}}
]}
],
"config":{
"view":{"stroke":null},
"title":{"font":"Liberation Serif, Times New Roman, serif","fontSize":13,"fontWeight":"normal","anchor":"start","frame":"group","color":"#000000"},
"axis":{"labelFont":"Liberation Serif, Times New Roman, serif","labelFontSize":13,"labelColor":"#000000","ticks":false,"domain":false,"grid":false,"title":null,"labelOverlap":false},
"text":{"font":"Liberation Serif, Times New Roman, serif","fontSize":13,"color":"#000000"}
}
}
